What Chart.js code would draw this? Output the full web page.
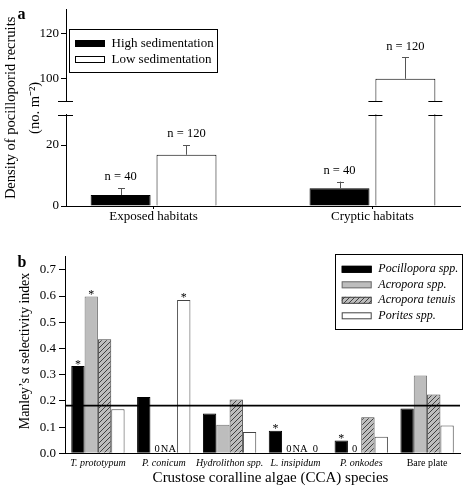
<!DOCTYPE html>
<html lang="en">
<head>
<meta charset="utf-8">
<title>Pocilloporid recruits and CCA selectivity</title>
<script src="https://cdn.jsdelivr.net/npm/chart.js@4.4.0/dist/chart.umd.min.js"></script>
<style>
  body { margin: 0; background: #fff; }
  #wrap { position: relative; width: 464px; height: 486px; }
  canvas { position: absolute; left: 0; }
  #chartA { top: 0; }
  #chartB { top: 232px; }
  .tag { position: absolute; font: bold 16px "Liberation Serif", serif; line-height: 16px; }
</style>
</head>
<body>
<div id="wrap">
  <canvas id="chartA" width="464" height="232"></canvas>
  <canvas id="chartB" width="464" height="254"></canvas>
  <div class="tag" style="left:17.5px;top:6px">a</div>
  <div class="tag" style="left:17.5px;top:253.5px">b</div>
</div>
<script>
// ---- panel a : recruit density ----
const habitats = ['Exposed habitats', 'Cryptic habitats'];
const sedLabels = ['High sedimentation', 'Low sedimentation'];
const highSed = [3.6, 5.8];
const lowSed = [16.8, 100];
const highSedErr = [2.3, 2.2];
const lowSedErr = [3.2, 9.5];
const highSedN = [40, 40];
const lowSedN = [120, 120];
const ticksA = [0, 20, 100, 120];
const breakLow = 30, breakHigh = 90, topA = 130.5;

// ---- panel b : Manley's alpha ----
const ccaSpecies = ['T. prototypum', 'P. conicum', 'Hydrolithon spp.', 'L. insipidum', 'P. onkodes', 'Bare plate'];
const coralLabels = ['Pocillopora spp.', 'Acropora spp.', 'Acropora tenuis', 'Porites spp.'];
const pocillopora = [0.333, 0.215, 0.152, 0.086, 0.049, 0.171];
const acropora = [0.598, 0, 0.109, 0, 0, 0.297];
const acroporaTenuis = [0.435, null, 0.205, null, 0.138, 0.224];
const porites = [0.168, 0.585, 0.081, 0, 0.063, 0.106];
const pocilloporaSig = [true, false, false, true, true, false];
const acroporaSig = [true, false, false, false, false, false];
const tenuisSig = [false, false, false, false, false, false];
const poritesSig = [false, true, false, false, false, false];
const ticksB = [0, 0.1, 0.2, 0.3, 0.4, 0.5, 0.6, 0.7];
const expectedAlpha = 0.182;

Chart.defaults.font.family = '"Liberation Serif", "Times New Roman", serif';
Chart.defaults.color = '#000';

// broken axis: lower part 1 unit per value, a gap, then a compressed upper part
const GAP = 4.3, HIGH_PER = 0.742;
function toAxis(v) { return v <= breakLow ? v : breakLow + GAP + (v - breakHigh) * HIGH_PER; }
function fromAxis(u) { return u <= breakLow ? u : breakHigh + (u - breakLow - GAP) / HIGH_PER; }

function boxLegend(cfg) {
  return {
    id: 'boxLegend',
    afterDraw(chart) {
      const c = chart.ctx;
      c.save();
      c.fillStyle = '#fff';
      c.fillRect(cfg.x, cfg.y, cfg.w, cfg.h);
      c.strokeStyle = '#000';
      c.lineWidth = 1;
      c.strokeRect(cfg.x + 0.5, cfg.y + 0.5, cfg.w, cfg.h);
      chart.data.datasets.forEach((ds, i) => {
        const yc = cfg.row0 + i * cfg.rowGap;
        c.fillStyle = ds.backgroundColor;
        c.fillRect(cfg.sx, yc - cfg.sh / 2, cfg.sw, cfg.sh);
        c.strokeStyle = ds.borderColor;
        c.strokeRect(cfg.sx + 0.5, yc - cfg.sh / 2 + 0.5, cfg.sw - 1, cfg.sh - 1);
        c.fillStyle = '#000';
        c.font = cfg.font;
        c.textAlign = 'left';
        c.textBaseline = 'middle';
        c.fillText(ds.label, cfg.tx, yc);
      });
      c.restore();
    }
  };
}

// axis titles drawn by hand so they can sit slightly off-centre like the original
function freeTitle(cfg) {
  return {
    id: 'freeTitle',
    afterDraw(chart) {
      const c = chart.ctx;
      c.save();
      c.translate(cfg.x, cfg.y);
      c.rotate(cfg.angle || 0);
      c.fillStyle = '#000';
      c.font = cfg.font;
      c.textAlign = 'center';
      c.textBaseline = 'middle';
      c.fillText(cfg.text, 0, 0);
      c.restore();
    }
  };
}

// draws the white gap and the marks of the broken axis
const brokenAxis = {
  id: 'brokenAxis',
  afterDatasetsDraw(chart) {
    const c = chart.ctx, area = chart.chartArea, y = chart.scales.y;
    const yLo = y.getPixelForValue(breakLow);
    const yHi = y.getPixelForValue(breakLow + GAP);
    c.save();
    c.fillStyle = '#fff';
    c.fillRect(area.left - 2, yHi + 0.5, area.right - area.left + 2, yLo - yHi - 1);
    c.strokeStyle = '#000';
    c.lineWidth = 1;
    const mark = (x0, x1) => {
      c.beginPath();
      c.moveTo(x0, Math.round(yHi) + 0.5); c.lineTo(x1, Math.round(yHi) + 0.5);
      c.moveTo(x0, Math.round(yLo) + 0.5); c.lineTo(x1, Math.round(yLo) + 0.5);
      c.stroke();
    };
    mark(area.left - 8, area.left + 7);
    chart.data.datasets.forEach((ds, di) => {
      chart.getDatasetMeta(di).data.forEach((el, i) => {
        if (ds.raw[i] > breakHigh) {
          const l = el.x - el.width / 2, r = el.x + el.width / 2;
          mark(l - 7, l + 7);
          mark(r - 7, r + 7);
        }
      });
    });
    c.restore();
  }
};

const errorBars = {
  id: 'errorBars',
  afterDatasetsDraw(chart) {
    const c = chart.ctx, y = chart.scales.y;
    c.save();
    c.strokeStyle = '#555';
    c.lineWidth = 1;
    c.fillStyle = '#000';
    c.font = '12.5px "Liberation Serif", serif';
    c.textAlign = 'center';
    c.textBaseline = 'middle';
    chart.data.datasets.forEach((ds, di) => {
      chart.getDatasetMeta(di).data.forEach((el, i) => {
        const top = y.getPixelForValue(toAxis(ds.raw[i] + ds.err[i]));
        const x = Math.round(el.x) + 0.5;
        c.beginPath();
        c.moveTo(x, el.y); c.lineTo(x, top);
        c.moveTo(x - 3.5, Math.round(top) + 0.5); c.lineTo(x + 3.5, Math.round(top) + 0.5);
        c.stroke();
        c.fillText('n = ' + ds.n[i], el.x, top - 11);
      });
    });
    c.restore();
  }
};

new Chart(document.getElementById('chartA'), {
  type: 'bar',
  data: {
    datasets: [
      {
        label: sedLabels[0],
        data: highSed.map((v, i) => ({ x: i, y: toAxis(v) })),
        raw: highSed, err: highSedErr, n: highSedN,
        backgroundColor: '#000', borderColor: '#000', borderWidth: 1
      },
      {
        label: sedLabels[1],
        data: lowSed.map((v, i) => ({ x: i, y: toAxis(v) })),
        raw: lowSed, err: lowSedErr, n: lowSedN,
        backgroundColor: '#fff', borderColor: '#000', borderWidth: 1
      }
    ]
  },
  options: {
    responsive: false,
    animation: false,
    categoryPercentage: 0.602,
    barPercentage: 0.91,
    layout: { padding: { top: 7, right: 4, left: 0, bottom: 0 } },
    plugins: { legend: { display: false }, tooltip: { enabled: false } },
    scales: {
      x: {
        type: 'linear', min: -0.4, max: 1.4, offset: false,
        afterBuildTicks: s => { s.ticks = habitats.map((_, i) => ({ value: i })); },
        afterFit: s => { s.height = 26; },
        ticks: { callback: v => habitats[v], font: { size: 13, lineHeight: 1 }, padding: 1, maxRotation: 0 },
        grid: { drawOnChartArea: false, offset: false, tickLength: 3, color: '#000' },
        border: { color: '#000' }
      },
      y: {
        min: 0, max: toAxis(topA),
        afterBuildTicks: s => { s.ticks = ticksA.map(v => ({ value: toAxis(v) })); },
        afterFit: s => { s.width = 66; },
        ticks: { callback: v => Math.round(fromAxis(v)), font: { size: 13 }, padding: 2 },
        grid: { drawOnChartArea: false, tickLength: 5, color: '#000' },
        border: { color: '#000' },
        title: {
          display: true,
          text: ['Density of pocilloporid recruits', '(no. m\u207B\u00B2)'],
          font: { size: 14.5, lineHeight: 1.65 },
          padding: { top: -1, bottom: 0 }
        }
      }
    }
  },
  plugins: [errorBars, brokenAxis,
    boxLegend({ x: 69, y: 29, w: 148, h: 43, row0: 43.5, rowGap: 16, sx: 75, sw: 30, sh: 7, tx: 111.5, font: '13px "Liberation Serif", serif' })]
});

// hatch pattern for Acropora tenuis
const tile = document.createElement('canvas');
tile.width = tile.height = 5;
const tc = tile.getContext('2d');
tc.fillStyle = '#bdbdbd';
tc.fillRect(0, 0, 5, 5);
tc.strokeStyle = '#333';
tc.lineWidth = 0.9;
tc.beginPath();
tc.moveTo(0, 5); tc.lineTo(5, 0);
tc.moveTo(-1, 1); tc.lineTo(1, -1);
tc.moveTo(4, 6); tc.lineTo(6, 4);
tc.stroke();
const ctxB = document.getElementById('chartB').getContext('2d');
const hatch = ctxB.createPattern(tile, 'repeat');

const refLine = {
  id: 'refLine',
  afterDatasetsDraw(chart) {
    const c = chart.ctx, area = chart.chartArea;
    const yy = chart.scales.y.getPixelForValue(expectedAlpha);
    c.save();
    c.strokeStyle = '#000';
    c.lineWidth = 1.6;
    c.beginPath();
    c.moveTo(area.left, yy); c.lineTo(area.right, yy);
    c.stroke();
    c.restore();
  }
};

const barNotes = {
  id: 'barNotes',
  afterDatasetsDraw(chart) {
    const c = chart.ctx, base = chart.chartArea.bottom;
    c.save();
    c.fillStyle = '#000';
    c.textAlign = 'center';
    c.textBaseline = 'alphabetic';
    chart.data.datasets.forEach((ds, di) => {
      chart.getDatasetMeta(di).data.forEach((el, i) => {
        const v = ds.data[i];
        c.font = '10.5px "Liberation Serif", serif';
        if (v === null) c.fillText('NA', el.x - 2, base - 1);
        else if (v === 0) c.fillText('0', el.x, base - 1);
        if (ds.sig[i]) {
          c.font = '12px "Liberation Serif", serif';
          c.fillText('*', el.x, el.y + 1.5);
        }
      });
    });
    c.restore();
  }
};

new Chart(ctxB, {
  type: 'bar',
  data: {
    labels: ccaSpecies,
    datasets: [
      { label: coralLabels[0], data: pocillopora, sig: pocilloporaSig, backgroundColor: '#000', borderColor: '#000' },
      { label: coralLabels[1], data: acropora, sig: acroporaSig, backgroundColor: '#bdbdbd', borderColor: '#707070' },
      { label: coralLabels[2], data: acroporaTenuis, sig: tenuisSig, backgroundColor: hatch, borderColor: '#444' },
      { label: coralLabels[3], data: porites, sig: poritesSig, backgroundColor: '#fff', borderColor: '#444' }
    ]
  },
  options: {
    responsive: false,
    animation: false,
    categoryPercentage: 0.81,
    barPercentage: 1,
    datasets: { bar: { borderWidth: 1 } },
    layout: { padding: { top: 24.7, right: 4, left: 0, bottom: 0 } },
    plugins: { legend: { display: false }, tooltip: { enabled: false } },
    scales: {
      x: {
        afterFit: s => { s.height = 32.7; },
        ticks: {
          font: ctx => ({ size: 10, style: ctx.index < 5 ? 'italic' : 'normal', lineHeight: 1.2 }),
          padding: 4, maxRotation: 0, autoSkip: false
        },
        grid: { display: false, drawTicks: false },
        border: { color: '#000' }
      },
      y: {
        min: 0, max: 0.75,
        afterBuildTicks: s => { s.ticks = ticksB.map(v => ({ value: v })); },
        afterFit: s => { s.width = 65; },
        ticks: { callback: v => v.toFixed(1), font: { size: 13 }, padding: 3 },
        grid: { drawOnChartArea: false, tickLength: 6, color: '#000' },
        border: { color: '#000' }
      }
    }
  },
  plugins: [refLine, barNotes,
    freeTitle({ x: 25, y: 119, angle: -Math.PI / 2, text: 'Manley\u2019s \u03B1 selectivity index', font: '13.8px "Liberation Serif", serif' }),
    freeTitle({ x: 270.5, y: 246.5, text: 'Crustose coralline algae (CCA) species', font: '15px "Liberation Serif", serif' }),
    boxLegend({ x: 335, y: 22, w: 127, h: 75, row0: 37.3, rowGap: 15.5, sx: 341.7, sw: 30, sh: 7, tx: 378.3, font: 'italic 12px "Liberation Serif", serif' })]
});
</script>
</body>
</html>
